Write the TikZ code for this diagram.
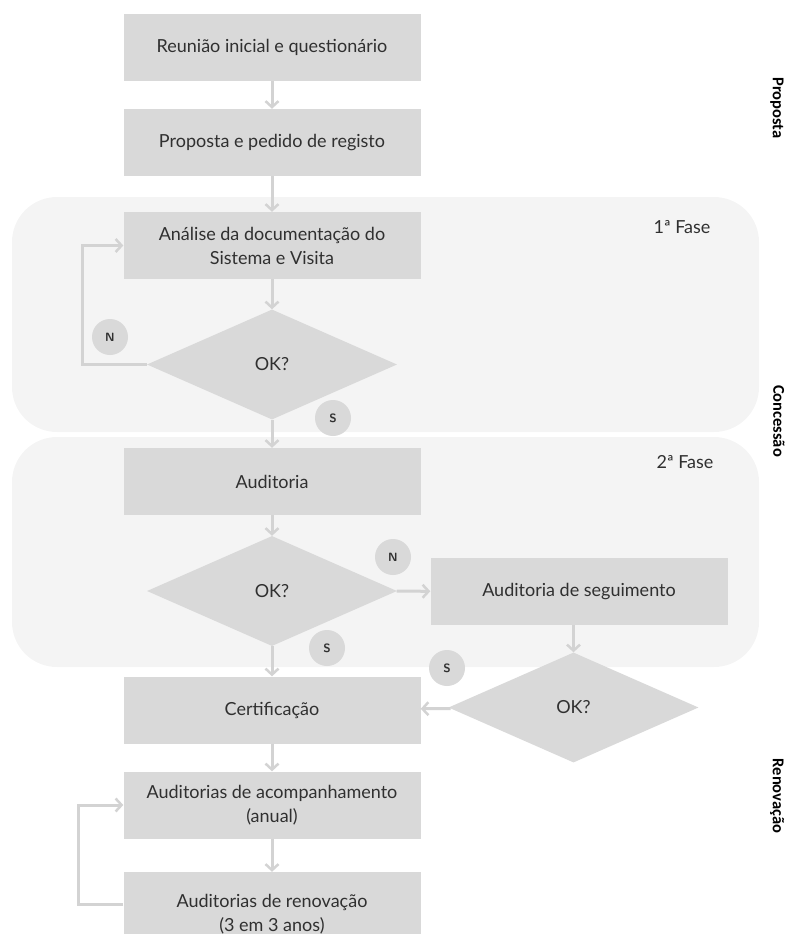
\documentclass[tikz,border=0pt]{standalone}
\usepackage{fontspec}
\setmainfont{Lato}
\newfontfamily\sidefont{Carlito}
\usetikzlibrary{shapes.geometric,arrows.meta}

\definecolor{boxgray}{HTML}{D9D9D9}
\definecolor{phasegray}{HTML}{F4F4F4}
\definecolor{linegray}{HTML}{D3D3D3}
\definecolor{txtgray}{HTML}{303030}

\tikzset{every node/.style={text=txtgray,font=\fontsize{18}{24}\selectfont}}
\tikzset{stepbox/.style={fill=boxgray,minimum width=297pt,minimum height=67pt,align=center,inner sep=0pt}}
\tikzset{decision/.style={diamond,fill=boxgray,minimum width=250pt,minimum height=110pt,aspect=2.27,inner sep=0pt}}
\tikzset{answer/.style={circle,fill=boxgray,minimum size=36pt,inner sep=0pt,font=\sffamily\bfseries\fontsize{12}{14}\selectfont}}
\tikzset{flow/.style={draw=linegray,line width=3pt,-{Straight Barb[length=6pt,width=13pt,line width=2.5pt]}}}
\tikzset{phase/.style={fill=phasegray,rounded corners=45pt}}
\tikzset{stage/.style={rotate=-90,font=\sidefont\bfseries\fontsize{16.5}{20}\selectfont,text=black}}

\begin{document}
\begin{tikzpicture}[x=1pt,y=-1pt]
    \useasboundingbox (0,0) rectangle (785,934);
    % phases
    \fill[phase] (12,197) rectangle (759,432);
    \fill[phase] (12,437) rectangle (759,667);
    \node at (682,227) {1ª Fase};
    \node at (685,462) {2ª Fase};

    \node [stepbox] (reuniao) at (272,47.5) {Reunião inicial e questionário};
    \node [stepbox] (proposta) at (272,142.5) {Proposta e pedido de registo};
    \node [stepbox] (analise) at (272,245.5) {Análise da documentação do\\Sistema e Visita};
    \node [decision] (ok1) at (272,364.5) {OK?};
    \node [stepbox] (auditoria) at (272,481.5) {Auditoria};
    \node [decision] (ok2) at (272,591) {OK?};
    \node [stepbox] (seguimento) at (579,591.5) {Auditoria de seguimento};
    \node [decision] (ok3) at (573.5,707.5) {OK?};
    \node [stepbox] (certif) at (272,710) {Certificação};
    \node [stepbox] (acomp) at (272,805) {Auditorias de acompanhamento\\(anual)};
    \node [stepbox,minimum height=84pt] (renov) at (272,914) {Auditorias de renovação\\(3 em 3 anos)};

    % yes / no marks
    \node [answer] (n1) at (110,337) {N};
    \node [answer] (s1) at (333,418) {S};
    \node [answer] (n2) at (393,557) {N};
    \node [answer] (s2) at (327,648) {S};
    \node [answer] (s3) at (447,668) {S};

    \draw [flow] (reuniao) -- (proposta);
    \draw [flow] (proposta) -- (analise);
    \draw [flow] (analise) -- (ok1);
    \draw [flow] (ok1.west) -- ++(-64,0) |- (analise.west);
    \draw [flow] (ok1) -- (auditoria);
    \draw [flow] (auditoria) -- (ok2);
    \draw [flow] (ok2) -- (seguimento);
    \draw [flow] (seguimento.south -| ok3) -- (ok3);
    \draw [flow] (ok3) -- (certif);
    \draw [flow] (ok2) -- (certif);
    \draw [flow] (certif) -- (acomp);
    \draw [flow] (acomp) -- (renov);
    \draw [flow] ([yshift=10pt]renov.west) -- ++(-45,0) |- (acomp.west);

    % stages
    \node [stage] at (777,108) {Proposta};
    \node [stage] at (779,421) {Concessão};
    \node [stage] at (777,796) {Renovação};
\end{tikzpicture}
\end{document}
